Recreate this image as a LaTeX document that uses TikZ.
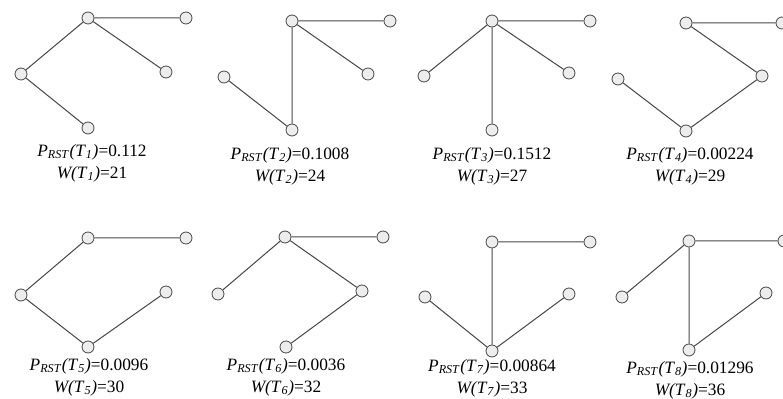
\documentclass[tikz,border=0pt]{standalone}
\usepackage{fontspec}
\setmainfont{Liberation Serif}
\usepackage{tikz}

\tikzset{
  vtx/.style={circle, draw=gray!55!black, fill=gray!14, inner sep=0pt, minimum size=9pt, line width=0.6pt},
  edge/.style={draw=gray!55!black, line width=0.75pt},
  lbl/.style={align=center, font=\fontsize{13}{16.5}\selectfont, inner sep=0pt}
}
\newcommand{\prst}[2]{\textit{P}\textsubscript{\textit{RST}}\textit{(T}\textsubscript{\textit{#1}}\textit{)}=#2}
\newcommand{\wtree}[2]{\textit{W(T}\textsubscript{\textit{#1}}\textit{)}=#2}

\begin{document}
\begin{tikzpicture}[x=0.75pt,y=0.75pt,yscale=-1,xscale=1]
\clip (0,0) rectangle (783,399);

%Tree T1
\node[vtx] (a1) at (88,18) {};
\node[vtx] (b1) at (186,18) {};
\node[vtx] (c1) at (21,74) {};
\node[vtx] (d1) at (166,72) {};
\node[vtx] (e1) at (88,128) {};
\draw[edge] (a1) -- (b1) (a1) -- (c1) (a1) -- (d1) (c1) -- (e1);
\node[lbl] (l1) at (92,163) {\prst{1}{0.112}\\\wtree{1}{21}};

%Tree T2
\node[vtx] (a2) at (292,21) {};
\node[vtx] (b2) at (390,21) {};
\node[vtx] (c2) at (224,77) {};
\node[vtx] (d2) at (368,74) {};
\node[vtx] (e2) at (292,130) {};
\draw[edge] (a2) -- (b2) (a2) -- (d2) (a2) -- (e2) (c2) -- (e2);
\node[lbl] (l2) at (290,166) {\prst{2}{0.1008}\\\wtree{2}{24}};

%Tree T3
\node[vtx] (a3) at (492,21) {};
\node[vtx] (b3) at (590,21) {};
\node[vtx] (c3) at (424,76) {};
\node[vtx] (d3) at (569,73) {};
\node[vtx] (e3) at (492,130) {};
\draw[edge] (a3) -- (b3) (a3) -- (c3) (a3) -- (d3) (a3) -- (e3);
\node[lbl] (l3) at (492,166) {\prst{3}{0.1512}\\\wtree{3}{27}};

%Tree T4
\node[vtx] (a4) at (686,23) {};
\node[vtx] (b4) at (782,23) {};
\node[vtx] (c4) at (618,79) {};
\node[vtx] (d4) at (762,76) {};
\node[vtx] (e4) at (686,131) {};
\draw[edge] (a4) -- (b4) (a4) -- (d4) (d4) -- (e4) (c4) -- (e4);
\node[lbl] (l4) at (690,166) {\prst{4}{0.00224}\\\wtree{4}{29}};

%Tree T5
\node[vtx] (a5) at (88,238) {};
\node[vtx] (b5) at (186,238) {};
\node[vtx] (c5) at (21,295) {};
\node[vtx] (d5) at (166,292) {};
\node[vtx] (e5) at (88,347) {};
\draw[edge] (a5) -- (b5) (a5) -- (c5) (c5) -- (e5) (e5) -- (d5);
\node[lbl] (l5) at (89,377) {\prst{5}{0.0096}\\\wtree{5}{30}};

%Tree T6
\node[vtx] (a6) at (285,237) {};
\node[vtx] (b6) at (383,237) {};
\node[vtx] (c6) at (218,294) {};
\node[vtx] (d6) at (362,291) {};
\node[vtx] (e6) at (286,347) {};
\draw[edge] (a6) -- (b6) (a6) -- (c6) (a6) -- (d6) (d6) -- (e6);
\node[lbl] (l6) at (286,377) {\prst{6}{0.0036}\\\wtree{6}{32}};

%Tree T7
\node[vtx] (a7) at (492,242) {};
\node[vtx] (b7) at (590,242) {};
\node[vtx] (c7) at (425,297) {};
\node[vtx] (d7) at (569,294) {};
\node[vtx] (e7) at (492,351) {};
\draw[edge] (a7) -- (b7) (a7) -- (e7) (c7) -- (e7) (d7) -- (e7);
\node[lbl] (l7) at (492,378) {\prst{7}{0.00864}\\\wtree{7}{33}};

%Tree T8
\node[vtx] (a8) at (689,241) {};
\node[vtx] (b8) at (784,241) {};
\node[vtx] (c8) at (622,297) {};
\node[vtx] (d8) at (766,293) {};
\node[vtx] (e8) at (689,350) {};
\draw[edge] (a8) -- (b8) (a8) -- (c8) (a8) -- (e8) (e8) -- (d8);
\node[lbl] (l8) at (690,380) {\prst{8}{0.01296}\\\wtree{8}{36}};

\end{tikzpicture}
\end{document}
